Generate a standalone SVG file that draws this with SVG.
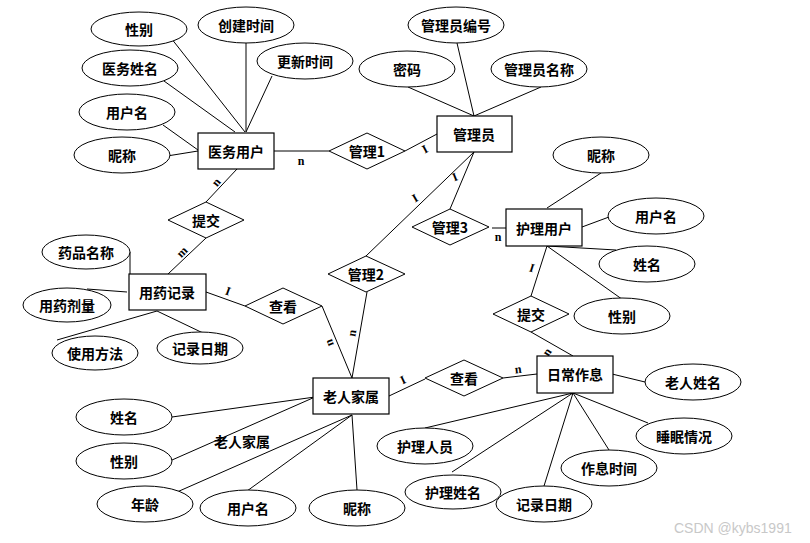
<svg xmlns="http://www.w3.org/2000/svg" width="810" height="543" viewBox="0 0 810 543">
<style>
.e{fill:#fff;stroke:#000;stroke-width:1}
.r{fill:#fff;stroke:#000;stroke-width:1.2}
.d{fill:#fff;stroke:#000;stroke-width:1}
.l{stroke:#000;stroke-width:1;fill:none}
.t{font-family:"Noto Sans CJK SC","Liberation Sans",sans-serif;font-size:14px;font-weight:bold;text-anchor:middle;dominant-baseline:central;fill:#000}
.c{font-family:"Liberation Serif",serif;font-size:12px;font-weight:bold;text-anchor:middle;dominant-baseline:central;fill:#000}
.w{font-family:"Liberation Sans",sans-serif;font-size:14px;fill:#c8c8c8}
</style>
<rect width="810" height="543" fill="#fff"/>
<g id="connectors">
<line class="l" x1="171" y1="38" x2="245" y2="132"/>
<line class="l" x1="246" y1="43" x2="246" y2="132"/>
<line class="l" x1="272" y1="76" x2="246" y2="132"/>
<line class="l" x1="164" y1="81" x2="235" y2="132"/>
<line class="l" x1="163" y1="125" x2="198" y2="150"/>
<line class="l" x1="167" y1="156" x2="198" y2="151"/>
<line class="l" x1="274" y1="151" x2="329" y2="151"/>
<line class="l" x1="237" y1="169" x2="206" y2="202"/>
<line class="l" x1="457" y1="43" x2="474" y2="116"/>
<line class="l" x1="408" y1="87" x2="474" y2="116"/>
<line class="l" x1="541" y1="87" x2="474" y2="116"/>
<line class="l" x1="405" y1="151" x2="437" y2="134"/>
<line class="l" x1="474" y1="152" x2="450" y2="209"/>
<line class="l" x1="474" y1="152" x2="366" y2="256"/>
<line class="l" x1="492" y1="228" x2="506" y2="228"/>
<line class="l" x1="367" y1="292" x2="352" y2="378"/>
<line class="l" x1="322" y1="306" x2="352" y2="378"/>
<line class="l" x1="206" y1="292" x2="245" y2="306"/>
<line class="l" x1="168" y1="274" x2="206" y2="238"/>
<line class="l" x1="130" y1="252" x2="130" y2="274"/>
<line class="l" x1="87" y1="289" x2="127" y2="292"/>
<line class="l" x1="57" y1="340" x2="157" y2="311"/>
<line class="l" x1="203" y1="333" x2="157" y2="311"/>
<line class="l" x1="601" y1="173" x2="547" y2="208"/>
<line class="l" x1="609" y1="217" x2="582" y2="227"/>
<line class="l" x1="616" y1="250" x2="547" y2="246"/>
<line class="l" x1="626" y1="302" x2="547" y2="246"/>
<line class="l" x1="547" y1="246" x2="531" y2="296"/>
<line class="l" x1="531" y1="332" x2="573" y2="356"/>
<line class="l" x1="389" y1="396" x2="425" y2="379"/>
<line class="l" x1="503" y1="378" x2="537" y2="374"/>
<line class="l" x1="612" y1="374" x2="645" y2="382"/>
<line class="l" x1="573" y1="393" x2="425" y2="428"/>
<line class="l" x1="573" y1="393" x2="452" y2="472"/>
<line class="l" x1="573" y1="393" x2="544" y2="486"/>
<line class="l" x1="573" y1="393" x2="609" y2="450"/>
<line class="l" x1="573" y1="393" x2="648" y2="423"/>
<line class="l" x1="172" y1="417" x2="315" y2="397"/>
<line class="l" x1="172" y1="460" x2="315" y2="397"/>
<line class="l" x1="177" y1="492" x2="352" y2="415"/>
<line class="l" x1="247" y1="491" x2="352" y2="415"/>
<line class="l" x1="357" y1="490" x2="352" y2="415"/>
<text class="c" x="301" y="161">n</text>
<text class="c" x="216" y="182" transform="rotate(-50 216 182)">n</text>
<text class="c" x="182" y="252" transform="rotate(-45 182 252)">m</text>
<text class="c" x="228" y="291" transform="rotate(20 228 291)">I</text>
<text class="c" x="425" y="149" transform="rotate(-28 425 149)">I</text>
<text class="c" x="455" y="177" transform="rotate(-22 455 177)">I</text>
<text class="c" x="415" y="198" transform="rotate(-30 415 198)">I</text>
<text class="c" x="498" y="237">n</text>
<text class="c" x="352" y="333" transform="rotate(-80 352 333)">n</text>
<text class="c" x="329" y="343" transform="rotate(-110 329 343)">n</text>
<text class="c" x="532" y="268" transform="rotate(18 532 268)">I</text>
<text class="c" x="547" y="352" transform="rotate(-55 547 352)">n</text>
<text class="c" x="403" y="380" transform="rotate(-25 403 380)">I</text>
<text class="c" x="518" y="369" transform="rotate(-7 518 369)">n</text>
</g>
<g id="n-yiwuyonghu"><rect class="r" x="198" y="133" width="76" height="36"/><text class="t" x="236" y="151">医务用户</text></g>
<g id="n-guanliyuan"><rect class="r" x="437" y="116" width="75" height="36"/><text class="t" x="474" y="134">管理员</text></g>
<g id="n-huliyonghu"><rect class="r" x="506" y="209" width="76" height="37"/><text class="t" x="544" y="228">护理用户</text></g>
<g id="n-yongyaojilu"><rect class="r" x="129" y="274" width="77" height="36"/><text class="t" x="167" y="292">用药记录</text></g>
<g id="n-laorenjiashu"><rect class="r" x="313" y="378" width="76" height="36"/><text class="t" x="351" y="396">老人家属</text></g>
<g id="n-richangzuoxi"><rect class="r" x="537" y="356" width="76" height="37"/><text class="t" x="575" y="374">日常作息</text></g>
<g id="r-guanli1"><polygon class="d" points="329,151 367,133 405,151 367,169"/><text class="t" x="367" y="151">管理1</text></g>
<g id="r-guanli3"><polygon class="d" points="412,227 450,209 489,227 450,245"/><text class="t" x="450" y="227">管理3</text></g>
<g id="r-guanli2"><polygon class="d" points="328,274 366,256 405,274 366,292"/><text class="t" x="366" y="274">管理2</text></g>
<g id="r-tijiao1"><polygon class="d" points="168,220 206,202 244,220 206,238"/><text class="t" x="206" y="220">提交</text></g>
<g id="r-chakan1"><polygon class="d" points="245,306 283,288 322,306 283,324"/><text class="t" x="283" y="306">查看</text></g>
<g id="r-tijiao2"><polygon class="d" points="493,314 531,296 569,314 531,332"/><text class="t" x="531" y="314">提交</text></g>
<g id="r-chakan2"><polygon class="d" points="425,378 464,360 503,378 464,396"/><text class="t" x="464" y="378">查看</text></g>
<g id="a-xingbie1"><ellipse class="e" cx="139" cy="29" rx="48" ry="17"/><text class="t" x="139" y="29">性别</text></g>
<g id="a-chuangjian"><ellipse class="e" cx="246" cy="25" rx="48" ry="18"/><text class="t" x="246" y="25">创建时间</text></g>
<g id="a-gengxin"><ellipse class="e" cx="305" cy="61" rx="48" ry="18"/><text class="t" x="305" y="61">更新时间</text></g>
<g id="a-yiwuxingming"><ellipse class="e" cx="130" cy="68" rx="48" ry="18"/><text class="t" x="130" y="68">医务姓名</text></g>
<g id="a-yonghuming1"><ellipse class="e" cx="127" cy="112" rx="48" ry="18"/><text class="t" x="127" y="112">用户名</text></g>
<g id="a-nicheng1"><ellipse class="e" cx="122" cy="155" rx="48" ry="18"/><text class="t" x="122" y="155">昵称</text></g>
<g id="a-guanliyuanbianhao"><ellipse class="e" cx="456" cy="25" rx="48" ry="18"/><text class="t" x="456" y="25">管理员编号</text></g>
<g id="a-mima"><ellipse class="e" cx="407" cy="69" rx="48" ry="18"/><text class="t" x="407" y="69">密码</text></g>
<g id="a-guanliyuanmingcheng"><ellipse class="e" cx="539" cy="69" rx="48" ry="18"/><text class="t" x="539" y="69">管理员名称</text></g>
<g id="a-nicheng2"><ellipse class="e" cx="601" cy="155" rx="48" ry="18"/><text class="t" x="601" y="155">昵称</text></g>
<g id="a-yonghuming2"><ellipse class="e" cx="656" cy="216" rx="48" ry="18"/><text class="t" x="656" y="216">用户名</text></g>
<g id="a-xingming2"><ellipse class="e" cx="647" cy="264" rx="48" ry="18"/><text class="t" x="647" y="264">姓名</text></g>
<g id="a-xingbie2"><ellipse class="e" cx="622" cy="316" rx="48" ry="18"/><text class="t" x="622" y="316">性别</text></g>
<g id="a-yaopinmingcheng"><ellipse class="e" cx="86" cy="252" rx="44" ry="17"/><text class="t" x="86" y="252">药品名称</text></g>
<g id="a-yongyaojiliang"><ellipse class="e" cx="67" cy="305" rx="44" ry="17"/><text class="t" x="67" y="305">用药剂量</text></g>
<g id="a-shiyongfangfa"><ellipse class="e" cx="95" cy="353" rx="43" ry="17"/><text class="t" x="95" y="353">使用方法</text></g>
<g id="a-jiluriqi1"><ellipse class="e" cx="200" cy="348" rx="43" ry="16"/><text class="t" x="200" y="348">记录日期</text></g>
<g id="a-xingming3"><ellipse class="e" cx="124" cy="417" rx="48" ry="18"/><text class="t" x="124" y="417">姓名</text></g>
<g id="a-xingbie3"><ellipse class="e" cx="124" cy="461" rx="48" ry="18"/><text class="t" x="124" y="461">性别</text></g>
<g id="a-nianling"><ellipse class="e" cx="145" cy="504" rx="48" ry="18"/><text class="t" x="145" y="504">年龄</text></g>
<g id="a-yonghuming3"><ellipse class="e" cx="248" cy="508" rx="48" ry="18"/><text class="t" x="248" y="508">用户名</text></g>
<g id="a-nicheng3"><ellipse class="e" cx="357" cy="508" rx="48" ry="18"/><text class="t" x="357" y="508">昵称</text></g>
<g id="lbl-laorenjiashu"><text class="t" x="242" y="441">老人家属</text></g>
<g id="a-hurenyuan"><ellipse class="e" cx="425" cy="446" rx="48" ry="18"/><text class="t" x="425" y="446">护理人员</text></g>
<g id="a-hulixingming"><ellipse class="e" cx="453" cy="492" rx="48" ry="17"/><text class="t" x="453" y="492">护理姓名</text></g>
<g id="a-jiluriqi2"><ellipse class="e" cx="544" cy="504" rx="48" ry="18"/><text class="t" x="544" y="504">记录日期</text></g>
<g id="a-zuoxishijian"><ellipse class="e" cx="609" cy="468" rx="48" ry="18"/><text class="t" x="609" y="468">作息时间</text></g>
<g id="a-shuimian"><ellipse class="e" cx="684" cy="436" rx="48" ry="18"/><text class="t" x="684" y="436">睡眠情况</text></g>
<g id="a-laorenxingming"><ellipse class="e" cx="693" cy="382" rx="48" ry="18"/><text class="t" x="693" y="382">老人姓名</text></g>
<text class="w" x="674" y="533">CSDN @kybs1991</text>
</svg>
